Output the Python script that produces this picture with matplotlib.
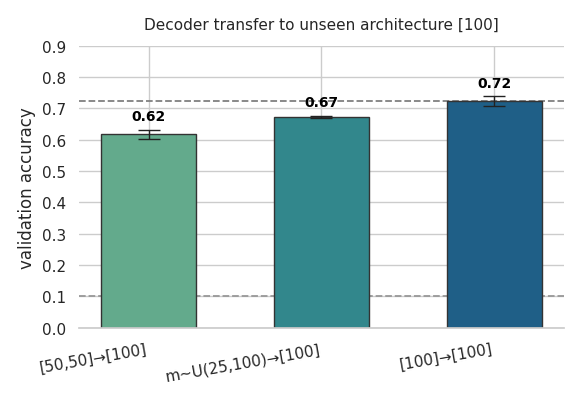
import numpy as np
import matplotlib
matplotlib.use("Agg")
import matplotlib.pyplot as plt
import seaborn as sns

sns.set_theme(style="whitegrid")

labels = ["[50,50]→[100]", "m~U(25,100)→[100]", "[100]→[100]"]
acc = [0.617, 0.673, 0.722]
err = [0.015, 0.004, 0.016]
colors = ["#63aa8c", "#32878c", "#1f5f87"]
ref_top = 0.725
ref_chance = 0.1

fig, ax = plt.subplots(figsize=(5.82, 4.02), dpi=100)
x = np.arange(len(labels))
ax.bar(x, acc, 0.55, color=colors, edgecolor="#333333", linewidth=1, zorder=2)
ax.errorbar(x, acc, yerr=err, fmt="none", ecolor="#222222", capsize=8, lw=1, zorder=3)
for xi, a, e in zip(x, acc, err):
    ax.text(xi, a + e + 0.02, f"{a:.2f}", ha="center", va="bottom",
            fontsize=10, fontweight="bold", color="black")
ax.axhline(ref_top, color="gray", ls="--", lw=1.3, zorder=1)
ax.axhline(ref_chance, color="#999999", ls="--", lw=1.3, zorder=1)
ax.set_ylim(0, 0.9)
ax.set_yticks(np.arange(0, 0.91, 0.1))
ax.set_xticks(x)
ax.set_xticklabels(labels, rotation=10, ha="right")
ax.set_ylabel("validation accuracy")
ax.set_title("Decoder transfer to unseen architecture [100]", fontsize=11, pad=12)
for s in ["top", "right", "left"]:
    ax.spines[s].set_visible(False)
ax.spines["bottom"].set_color("#cccccc")
fig.tight_layout()
fig.savefig("out.png", dpi=100)
